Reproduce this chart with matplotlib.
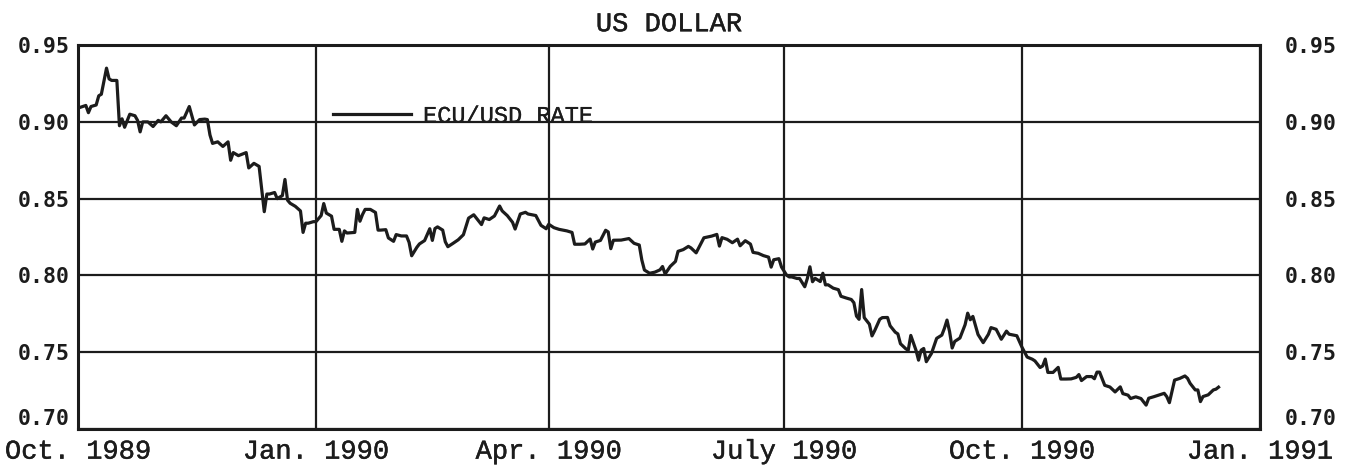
import matplotlib
matplotlib.use('Agg')
import matplotlib.pyplot as plt
import matplotlib.patheffects as pe
import numpy as np

# ECU/USD rate; days counted from 1 Oct 1989
start = np.datetime64('1989-10-01')

q4_1989_days = [0, 3, 4, 5, 7, 8, 9, 11, 12, 13, 15, 16, 17, 18, 20, 22, 23, 24, 25, 27,
                29, 31, 32, 34, 36, 38, 40, 41, 43, 45, 47, 49, 50, 51, 52, 54, 56, 58, 59, 60,
                62, 65, 66, 68, 70, 72, 73, 74, 76, 77, 79, 80, 81, 82, 84, 86, 87, 88, 89, 91]
q4_1989_rate = [.909, .9107, .906, .910, .911, .917, .918, .935, .928, .927,
                .927, .8975, .902, .8965, .905, .904, .901, .8935, .900, .900,
                .897, .901, .900, .904, .900, .8975, .9025, .9025, .910, .898,
                .9015, .9018, .9015, .8915, .886, .887, .884, .887, .875, .880,
                .878, .880, .870, .873, .871, .8415, .853, .853, .854, .850,
                .852, .8625, .849, .847, .845, .842, .828, .834, .834, .835]

q1_1990_days = [92, 94, 95, 96, 98, 99, 101, 102, 103, 104, 107, 108, 109, 110, 111, 113,
                115, 116, 117, 119, 120, 122, 123, 125, 127, 128, 129, 131, 132, 134, 136,
                137, 138, 139, 141, 142, 143, 145, 147, 149, 151, 153, 154, 156, 157, 159,
                161, 163, 164, 166, 168, 169, 171, 173, 174, 177, 179, 181]
q1_1990_rate = [.835, .839, .8468, .8406, .8386, .830, .830, .8222, .829, .8276,
                .828, .843, .8353, .8397, .843, .843, .841, .8295, .8295, .8298,
                .8244, .8222, .8266, .8257, .8257, .8215, .8128, .8183, .8205, .8227,
                .8304, .8228, .8305, .8316, .8295, .8219, .8187, .8209, .8232, .8265,
                .8373, .8395, .8374, .8331, .8375, .8364, .8387, .8452, .842, .8389,
                .8346, .8302, .840, .8411, .840, .839, .8326, .8304]

q2_1990_days = [182, 184, 186, 189, 191, 192, 194, 196, 198, 199, 200, 202, 204, 205, 206,
                207, 210, 213, 215, 217, 218, 219, 221, 223, 225, 226, 227, 229, 231, 232,
                234, 236, 237, 239, 241, 242, 245, 247, 248, 249, 251, 253, 255, 256, 258,
                260, 261, 263, 265, 267, 268, 269, 271, 272, 274]
q2_1990_rate = [.8333, .8311, .830, .829, .828, .8203, .8203, .8205, .8237, .8172,
                .8217, .8228, .8294, .8283, .8174, .8229, .823, .824, .8209, .8198,
                .810, .8035, .8014, .8021, .8036, .8058, .8009, .8059, .8091, .8157,
                .8168, .8189, .8179, .8147, .8212, .8245, .8256, .8267, .8191, .8246,
                .8235, .8213, .8236, .8193, .8226, .8204, .815, .8144, .8129, .8119,
                .8054, .8102, .8109, .8055, .8001]

q3_1990_days = [275, 276, 278, 279, 281, 282, 283, 284, 285, 287, 288, 289, 290, 292, 294,
                295, 297, 299, 300, 301, 302, 303, 304, 305, 306, 307, 308, 310, 311, 313,
                314, 316, 317, 318, 320, 321, 322, 324, 325, 326, 327, 328, 330, 332, 334,
                335, 336, 337, 338, 339, 341, 343, 344, 345, 346, 348, 350, 352, 353, 355,
                357, 359, 360, 363, 365, 367]
q3_1990_rate = [.799, .799, .798, .798, .7926, .798, .8056, .7959, .7981, .796,
                .8014, .7938, .7939, .7917, .7907, .7864, .7853, .7843, .7822, .7735,
                .7714, .7908, .7725, .7704, .7682, .7606, .7639, .7714, .7725, .7726,
                .7672, .763, .7619, .7555, .7523, .7512, .7609, .7513, .7448, .7513,
                .7524, .7438, .7492, .759, .7611, .7655, .7709, .7634, .7527, .757,
                .7592, .7679, .7754, .7711, .7733, .7615, .7562, .7616, .766, .7649,
                .7584, .7637, .7617, .7607, .7532, .7468]

q4_1990_days = [369, 370, 372, 373, 374, 375, 377, 379, 380, 382, 384, 386, 387, 388, 390,
                392, 393, 394, 395, 397, 399, 401, 403, 404, 406, 407, 409, 411, 413, 414,
                416, 418, 420, 421, 422, 424, 426, 428, 429, 430, 432, 433, 434, 435, 437,
                439, 440, 441]
q4_1990_rate = [.7454, .7443, .740, .741, .7455, .7368, .7368, .7401, .7325, .7325,
                .7326, .7336, .7354, .7315, .7341, .7341, .7327, .737, .737, .7284,
                .7273, .7241, .7274, .723, .722, .7198, .7209, .7198, .7155, .720,
                .721, .7221, .7232, .721, .7171, .7318, .7329, .7345, .733, .7297,
                .7254, .7254, .7178, .7211, .7222, .7254, .7259, .7272]

quarter_ticks = ['1989-10-01', '1990-01-01', '1990-04-01', '1990-07-01', '1990-10-01', '1991-01-01']
quarter_labels = ['Oct. 1989', 'Jan. 1990', 'Apr. 1990', 'July 1990', 'Oct. 1990', 'Jan. 1991']
rate_ticks = [0.70, 0.75, 0.80, 0.85, 0.90, 0.95]

days = np.concatenate([q4_1989_days, q1_1990_days, q2_1990_days, q3_1990_days, q4_1990_days])
rate = np.concatenate([q4_1989_rate, q1_1990_rate, q2_1990_rate, q3_1990_rate, q4_1990_rate])
dates = start + days.astype('timedelta64[D]')

ink = '#1c1c1c'
mono = 'Liberation Mono'
heavy = [pe.withStroke(linewidth=0.3, foreground=ink)]  # slightly inked typewriter look

fig = plt.figure(figsize=(13.53, 4.75), dpi=100)
ax = fig.add_axes([0.0577, 0.097, 0.8735, 0.808])
ax.plot(dates, rate, color=ink, lw=2.3, label='ECU/USD RATE')

xt = np.array(quarter_ticks, dtype='datetime64[D]')
ax.set_xlim(xt[0], xt[-1])
ax.set_ylim(rate_ticks[0], rate_ticks[-1])
ax.set_xticks(xt)
ax.set_xticklabels(quarter_labels, fontfamily=mono, fontsize=19.5, path_effects=heavy)
ax.set_yticks(rate_ticks)
ax.set_yticklabels(['%.2f' % v for v in rate_ticks], fontfamily='DejaVu Sans Mono',
                   fontsize=15.5, fontweight='bold')
ax.tick_params(length=0, colors=ink, pad=6)
ax.tick_params(axis='x', pad=7)
ax.grid(True, color=ink, lw=1.6)
for s in ax.spines.values():
    s.set_color(ink)
    s.set_linewidth(2.2)

ax2 = ax.twinx()
ax2.set_ylim(rate_ticks[0], rate_ticks[-1])
ax2.set_yticks(rate_ticks)
ax2.set_yticklabels(['%.2f' % v for v in rate_ticks], fontfamily='DejaVu Sans Mono',
                    fontsize=15.5, fontweight='bold')
ax2.tick_params(length=0, colors=ink, pad=18)
for s in ax2.spines.values():
    s.set_visible(False)

# lowest labels sit just above the bottom frame, clear of the date labels
for lab in (ax.get_yticklabels()[0], ax2.get_yticklabels()[0]):
    lab.set_verticalalignment('bottom')

ax.set_title('US DOLLAR', fontfamily=mono, fontsize=19.5, color=ink, pad=10,
             path_effects=heavy)

leg = ax.legend(loc='center left', bbox_to_anchor=(0.208, 0.815), frameon=False,
                handlelength=3.3, handletextpad=0.5, borderaxespad=0,
                prop={'family': mono, 'size': 17})
for t in leg.get_texts():
    t.set_color(ink)
    t.set_path_effects([pe.withStroke(linewidth=0.2, foreground=ink)])

fig.savefig('out.png', dpi=100)
